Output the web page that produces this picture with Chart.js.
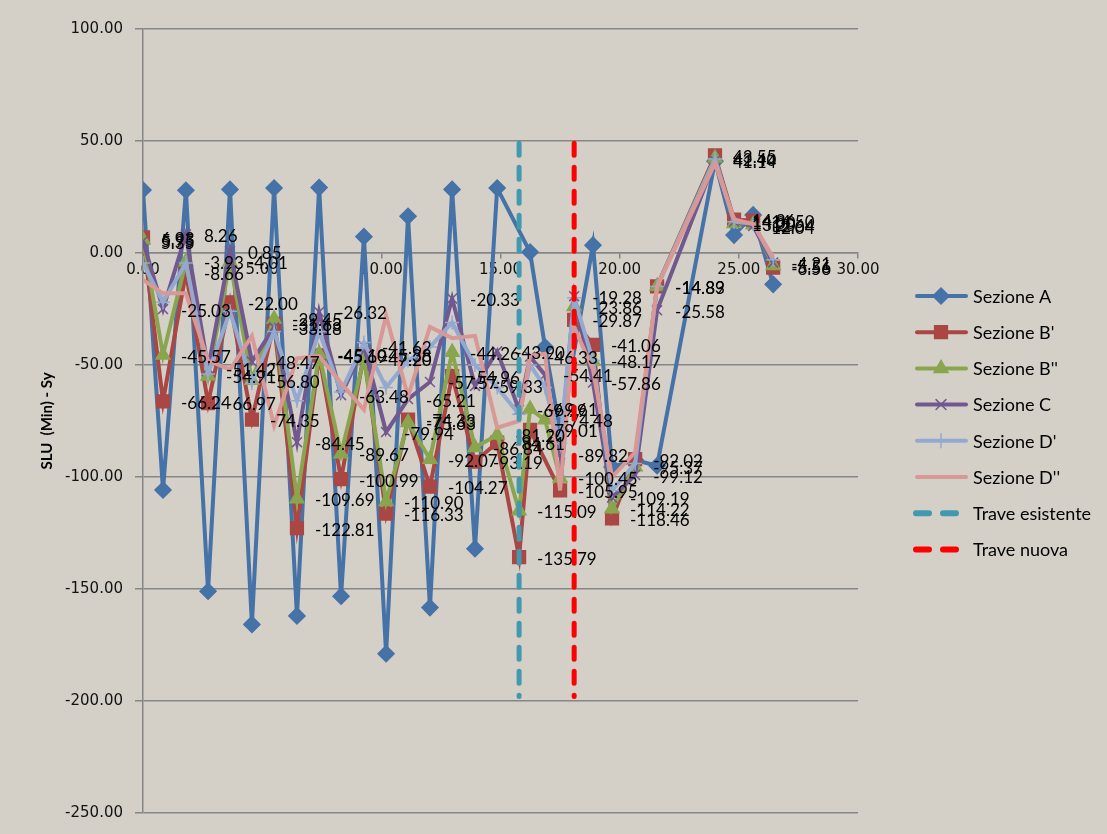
<!DOCTYPE html>
<html>
<head>
<meta charset="utf-8">
<title>SLU (Min) - Sy</title>
<script src="https://cdn.jsdelivr.net/npm/chart.js@4.4.0/dist/chart.umd.min.js"></script>
<style>
  html, body { margin: 0; padding: 0; background: #d4d0c8; }
  #wrap { width: 1107px; height: 834px; }
</style>
</head>
<body>
<div id="wrap"><canvas id="slu" width="1107" height="834"></canvas></div>
<script>
// x positions along the beam (shared by all sections)
const stations = [0, 0.84, 1.80, 2.73, 3.65, 4.57, 5.50, 6.46, 7.39, 8.31, 9.27, 10.20, 11.12, 12.04, 12.97,
    13.93, 14.86, 15.78, 16.24, 16.87, 17.50, 18.09, 18.88, 19.68, 20.65, 21.57, 24.00, 24.80, 25.60, 26.44];

const sezA = [28.1, -105.8, 28.0, -151.0, 28.4, -165.8, 29.0, -162.0, 29.2, -153.2, 7.3, -178.9, 16.4, -158.3, 28.4,
    -132.0, 29.0, null, 0.4, -42.0, -79.0, null, 3.5, -95.5, -92.4, -95.0, 41.0, 8.0, 17.0, -14.0];
const sezB1 = [6.93, -66.24, -8.66, -66.97, -22.00, -74.35, -31.63, -122.81, -45.69, -100.99, -45.38, -116.33, -74.33, -104.27, -54.96,
    -93.19, -84.61, -135.79, -79.01, null, -105.95, -29.87, -41.06, -118.46, -92.02, -14.89, 43.55, 14.86, 14.50, -6.56];
const sezB2 = [5.95, -45.57, -3.93, -54.91, -4.01, -56.80, -29.45, -109.69, -45.10, -89.67, -47.20, -110.90, -75.63, -92.07, -44.26,
    -86.84, -81.20, -115.09, -69.61, -74.48, -100.45, -23.86, -48.17, -114.22, -95.37, -14.83, 42.40, 13.20, 12.64, -5.56];
const sezC = [5.35, -25.03, 8.26, -51.42, 0.85, -48.47, -33.18, -84.45, -26.32, -63.48, -41.62, -79.94, -65.21, -57.57, -20.33,
    -59.33, -43.90, -69.99, -46.33, -54.41, -89.82, -19.28, -57.86, -109.19, -99.12, -25.58, 41.14, 14.00, 12.04, -4.21];
const sezD1 = [-4.5, -22, -4.5, -54, -26, -58, -35, -66, -35, -62, -40, -60, -48, -42, -31,
    -50, -60, -72, -50, -60, -85, -20, -48, -106, -94, -15, 42, 14, 13, -3];
const sezD2 = [-12, -18, -18, -48, -52, -37, -77, -47, -46, -58, -70, -28, -64, -33, -38,
    -37, -78, -75, -46, -45, -106, -33, -52, -100, -89, -15, 40, 15, 13, -2];

// beam positions (vertical markers)
const traveEsistenteX = 15.78;
const traveNuovaX = 18.09;
const traveRange = [49, -198];

const yMin = -250, yMax = 100, yStep = 50;
const xMin = 0, xMax = 30, xStep = 5;

const pts = vals => stations.map((x, i) => ({ x: x, y: vals[i] })).filter(p => p.y !== null);
const vline = x => traveRange.map(y => ({ x: x, y: y }));

function series(label, vals, color, style, radius, order, showValues) {
    return {
        label: label,
        data: pts(vals),
        showLine: true,
        borderColor: color,
        backgroundColor: color,
        borderWidth: 4,
        pointStyle: style,
        pointRadius: radius,
        pointBorderWidth: 1.5,
        pointBorderColor: color,
        pointBackgroundColor: color,
        order: order,
        showValues: showValues
    };
}

function beam(label, x, color, order) {
    return {
        label: label,
        data: vline(x),
        showLine: true,
        borderColor: color,
        backgroundColor: color,
        borderWidth: 5,
        borderDash: [12, 12],
        borderCapStyle: 'round',
        pointRadius: 0,
        order: order
    };
}

const datasets = [
    series('Sezione A', sezA, '#4572a7', 'rectRot', 8, 8, false),
    series("Sezione B'", sezB1, '#aa4643', 'rect', 9, 7, true),
    series("Sezione B''", sezB2, '#89a54e', 'triangle', 8, 6, true),
    series('Sezione C', sezC, '#71588f', 'crossRot', 7, 5, true),
    series("Sezione D'", sezD1, '#93a9cf', 'cross', 7, 4, false),
    series("Sezione D''", sezD2, '#d99795', false, 0, 3, false),
    beam('Trave esistente', traveEsistenteX, '#4198af', 2),
    beam('Trave nuova', traveNuovaX, '#ff0000', 1)
];

// value labels, drawn before the beam lines so those stay on top
const valueLabels = {
    id: 'valueLabels',
    beforeDatasetDraw(chart, args) {
        if (args.index !== 6) return;
        const ctx = chart.ctx;
        ctx.save();
        ctx.font = '17px Lato';
        ctx.fillStyle = '#000';
        ctx.textAlign = 'left';
        ctx.textBaseline = 'middle';
        chart.data.datasets.forEach((ds, i) => {
            if (!ds.showValues) return;
            chart.getDatasetMeta(i).data.forEach((pt, j) => {
                ctx.fillText(ds.data[j].y.toFixed(2), pt.x + 18, pt.y + 2);
            });
        });
        ctx.restore();
    }
};

// Excel-like legend on the right (line sample + marker)
const sideLegend = {
    id: 'sideLegend',
    afterDraw(chart) {
        const ctx = chart.ctx;
        chart.data.datasets.forEach((ds, i) => {
            const y = 296 + i * 36.2;
            ctx.save();
            ctx.strokeStyle = ds.borderColor;
            ctx.fillStyle = ds.borderColor;
            ctx.beginPath();
            if (ds.borderDash) {
                ctx.lineWidth = 6;
                ctx.lineCap = 'round';
                ctx.setLineDash([13, 14]);
                ctx.moveTo(916, y);
                ctx.lineTo(956, y);
            } else {
                ctx.lineWidth = 4;
                ctx.lineCap = 'round';
                ctx.moveTo(917, y);
                ctx.lineTo(966, y);
            }
            ctx.stroke();
            ctx.setLineDash([]);
            if (ds.pointStyle && ds.pointRadius) {
                ctx.lineWidth = 1.5;
                Chart.helpers.drawPoint(ctx, {
                    pointStyle: ds.pointStyle,
                    radius: ds.pointRadius,
                    rotation: 0,
                    borderWidth: 1.5
                }, 941, y);
            }
            ctx.fillStyle = '#000';
            ctx.font = '18px Lato';
            ctx.textAlign = 'left';
            ctx.textBaseline = 'middle';
            ctx.fillText(ds.label, 973, y + 1);
            ctx.restore();
        });
    }
};

const tickFont = { family: 'DejaVu Sans', size: 15 };

new Chart(document.getElementById('slu'), {
    type: 'scatter',
    data: { datasets: datasets },
    options: {
        responsive: false,
        animation: false,
        layout: { padding: { left: 0, right: 249, top: 29, bottom: 19 } },
        plugins: {
            legend: { display: false },
            tooltip: { enabled: false }
        },
        scales: {
            x: {
                type: 'linear',
                min: xMin,
                max: xMax,
                position: { y: 0 },
                ticks: {
                    stepSize: xStep,
                    callback: v => v.toFixed(2),
                    font: tickFont,
                    color: '#111',
                    padding: 3,
                    maxRotation: 0,
                    autoSkip: false
                },
                grid: { drawOnChartArea: false, drawTicks: true, tickLength: 5, color: '#868686', lineWidth: 1.5 },
                border: { color: '#868686', width: 1.5 }
            },
            y: {
                min: yMin,
                max: yMax,
                ticks: {
                    stepSize: yStep,
                    callback: v => v.toFixed(2),
                    font: tickFont,
                    color: '#111',
                    padding: 12
                },
                grid: { color: '#868686', lineWidth: 1.5, tickLength: 8 },
                border: { color: '#868686', width: 1.5 },
                title: {
                    display: true,
                    text: 'SLU  (Min) - Sy',
                    font: { family: 'Lato', size: 15, weight: 'bold' },
                    color: '#000',
                    padding: { top: 38, bottom: 0 }
                },
                afterFit(scale) { scale.width = 143; }
            }
        }
    },
    plugins: [valueLabels, sideLegend]
});
</script>
</body>
</html>
